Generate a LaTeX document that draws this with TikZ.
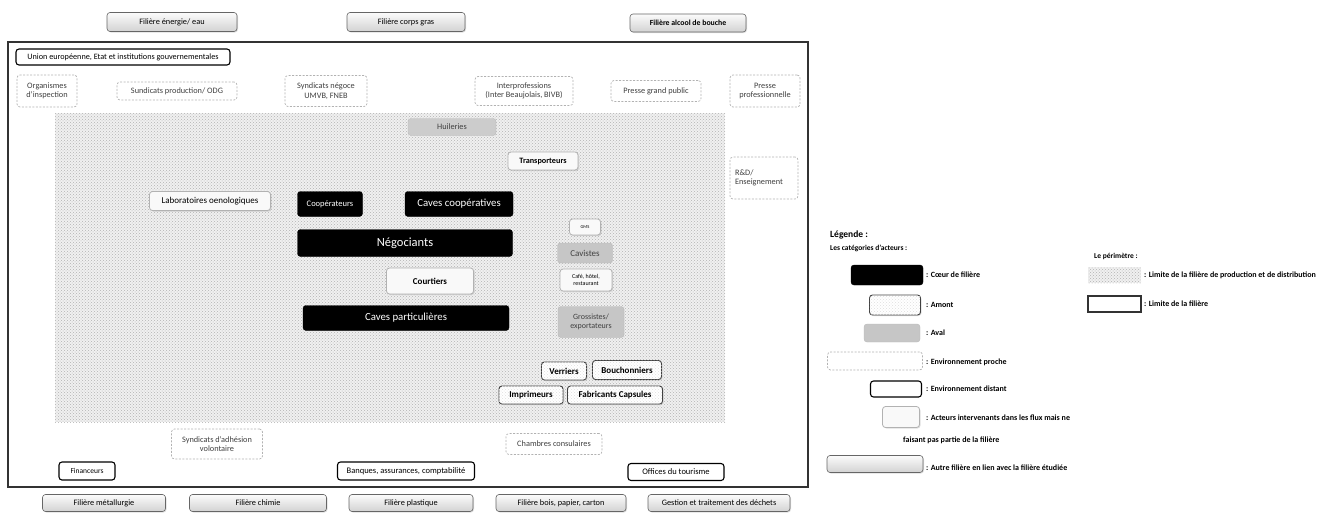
\documentclass[tikz,border=0pt]{standalone}
\usepackage{fontspec}
\setmainfont{Carlito}
\usetikzlibrary{patterns,shadows}

\begin{document}
\begin{tikzpicture}[x=1pt, y=-1pt,
    box/.style={rounded corners=3pt, inner sep=1pt, align=center, font=\fontsize{8.3}{9.5}\selectfont},
    coeur/.style={box, fill=black, draw=black, text=white},
    aval/.style={box, fill=gray!45, draw=gray!55, text=black!75},
    amont/.style={box, fill=white, draw=black!75, line width=0.9pt,
      font=\bfseries\fontsize{9}{10}\selectfont,
      drop shadow={opacity=0.25, shadow xshift=1pt, shadow yshift=-1pt},
      postaction={pattern=crosshatch dots, pattern color=gray!25}},
    interv/.style={box, fill=gray!5, draw=gray!60, line width=0.8pt,
      drop shadow={opacity=0.25, shadow xshift=1pt, shadow yshift=-1pt}},
    proche/.style={box, fill=white, draw=gray!60, line width=0.7pt, dash pattern=on 2pt off 1.5pt, text=black!75},
    distant/.style={box, fill=white, draw=black, line width=1.1pt, font=\fontsize{8.5}{9.5}\selectfont},
    autre/.style={box, top color=gray!3, bottom color=gray!35, draw=black!60, line width=0.6pt,
      drop shadow={opacity=0.25, shadow xshift=1pt, shadow yshift=-1pt}},
    zone/.style={fill=gray!12, postaction={pattern=crosshatch dots, pattern color=gray!60}},
    lgtxt/.style={anchor=west, inner sep=0pt, font=\bfseries\fontsize{8}{9}\selectfont}]
  % the page is measured in pixels of the original figure
  \useasboundingbox (0,0) rectangle (1319,517);

  % limite de la filiere, then the production and distribution zone
  \draw[line width=1.2pt, black!80] (8,42) rectangle (808,487);
  \path[zone] (55,113) rectangle (725,422);

  % autres filieres
  \node[autre, minimum width=130, minimum height=19] (fener) at (172,22) {Filière énergie/ eau};
  \node[autre, minimum width=118, minimum height=19] (fcorps) at (406,22) {Filière corps gras};
  \node[autre, minimum width=116, minimum height=18, font=\bfseries\fontsize{7.8}{9}\selectfont] (falcool) at (688,23) {Filière alcool de bouche};
  \node[autre, minimum width=123, minimum height=17] (fmet) at (104,503) {Filière métallurgie};
  \node[autre, minimum width=137, minimum height=17] (fchim) at (258,503) {Filière chimie};
  \node[autre, minimum width=124, minimum height=17] (fplast) at (411,503) {Filière plastique};
  \node[autre, minimum width=130, minimum height=17] (fbois) at (561,503) {Filière bois, papier, carton};
  \node[autre, minimum width=142, minimum height=17] (fdech) at (719,503) {Gestion et traitement des déchets};

  % environnement distant
  \node[distant, minimum width=214, minimum height=16, font=\fontsize{8.2}{9}\selectfont] (ue) at (123,57) {Union européenne, Etat et institutions gouvernementales};
  \node[distant, minimum width=56, minimum height=18, font=\fontsize{7.5}{8.5}\selectfont] (fin) at (87,471) {Financeurs};
  \node[distant, minimum width=137, minimum height=18] (banq) at (406,471) {Banques, assurances, comptabilité};
  \node[distant, minimum width=96, minimum height=17] (offices) at (676,472) {Offices du tourisme};

  % environnement proche
  \node[proche, minimum width=60, minimum height=32] (orga) at (47,91) {Organismes\\d'inspection};
  \node[proche, minimum width=120, minimum height=18] (synprod) at (177,91) {Sundicats production/ ODG};
  \node[proche, minimum width=82, minimum height=31] (synneg) at (326,91) {Syndicats négoce\\UMVB, FNEB};
  \node[proche, minimum width=98, minimum height=29] (interpro) at (524,91) {Interprofessions\\(Inter Beaujolais, BIVB)};
  \node[proche, minimum width=90, minimum height=21] (pressegp) at (656,91) {Presse grand public};
  \node[proche, minimum width=70, minimum height=32] (pressepro) at (765,91) {Presse\\professionnelle};
  \node[proche, minimum height=42, text width=58, inner sep=5pt, align=left] (rd) at (764,178) {R\&D/\\Enseignement};
  \node[proche, minimum width=91, minimum height=30] (synadh) at (217,444) {Syndicats d'adhésion\\volontaire};
  \node[proche, minimum width=96, minimum height=21] (chambres) at (554,444) {Chambres consulaires};

  % coeur de filiere
  \node[coeur, minimum width=65, minimum height=25, font=\fontsize{8.5}{9.5}\selectfont] (coop) at (330,204) {Coopérateurs};
  \node[coeur, minimum width=108, minimum height=25, font=\fontsize{10.8}{12}\selectfont] (cavecoop) at (459,204) {Caves coopératives};
  \node[coeur, minimum width=215, minimum height=27, font=\fontsize{12.5}{14}\selectfont] (nego) at (405,243) {Négociants};
  \node[coeur, minimum width=206, minimum height=25, font=\fontsize{10.8}{12}\selectfont] (cavepart) at (406,318) {Caves particulières};

  % aval
  \node[aval, minimum width=88, minimum height=17, fill=gray!40] (huil) at (452,127) {Huileries};
  \node[aval, minimum width=55, minimum height=20, font=\fontsize{9}{10}\selectfont] (cav) at (585,253) {Cavistes};
  \node[aval, minimum width=66, minimum height=31, font=\fontsize{8}{9.5}\selectfont] (gross) at (591,322) {Grossistes/\\exportateurs};

  % acteurs intervenants
  \node[interv, minimum width=121, minimum height=19, font=\fontsize{9}{10}\selectfont] (labo) at (210,201) {Laboratoires oenologiques};
  \node[interv, minimum width=70, minimum height=18, font=\bfseries\fontsize{8.2}{9}\selectfont] (transp) at (543,161) {Transporteurs};
  \node[interv, minimum width=87, minimum height=26, font=\bfseries\fontsize{9}{10}\selectfont] (court) at (430,281) {Courtiers};
  \node[interv, minimum width=31, minimum height=16, font=\fontsize{4.5}{5}\selectfont] (gms) at (585,227) {GMS};
  \node[interv, minimum width=52, minimum height=22, font=\fontsize{6}{6.5}\selectfont] (chr) at (586,280) {Café, hôtel,\\restaurant};

  % amont
  \node[amont, minimum width=45, minimum height=18] (verr) at (564,371) {Verriers};
  \node[amont, minimum width=69, minimum height=19] (bouch) at (627,370) {Bouchonniers};
  \node[amont, minimum width=64, minimum height=18] (impr) at (531,395) {Imprimeurs};
  \node[amont, minimum width=95, minimum height=18] (fabcap) at (615,395) {Fabricants Capsules};

  % legende
  \node[anchor=west, inner sep=0pt, font=\bfseries\fontsize{9.5}{10.5}\selectfont] (leg) at (830,235) {Légende :};
  \node[lgtxt, font=\bfseries\fontsize{7.5}{8.5}\selectfont] (cat) at (830,248) {Les catégories d'acteurs :};
  \node[lgtxt, font=\bfseries\fontsize{7.5}{8.5}\selectfont] (perim) at (1094,256) {Le périmètre :};

  \node[coeur, minimum width=72, minimum height=20] (lcoeur) at (887,275) {};
  \node[lgtxt] (tcoeur) at (926,275) {: Cœur de filière};
  \node[amont, minimum width=51, minimum height=20] (lamont) at (895,305) {};
  \node[lgtxt] (tamont) at (926,305) {: Amont};
  \node[aval, minimum width=56, minimum height=18] (laval) at (892,333) {};
  \node[lgtxt] (taval) at (926,333) {: Aval};
  \node[proche, minimum width=95, minimum height=18] (lproche) at (875,361) {};
  \node[lgtxt] (tproche) at (926,362) {: Environnement proche};
  \node[distant, minimum width=51, minimum height=16] (ldist) at (896,389) {};
  \node[lgtxt] (tdist) at (926,389) {: Environnement distant};
  \node[interv, minimum width=37, minimum height=21] (linterv) at (901,417) {};
  \node[lgtxt] (tinterv) at (926,418) {: Acteurs intervenants dans les flux mais ne};
  \node[lgtxt] (tinterv2) at (903,440) {faisant pas partie de la filière};
  \node[autre, minimum width=96, minimum height=17] (lautre) at (875,464) {};
  \node[lgtxt] (tautre) at (926,468) {: Autre filière en lien avec la filière étudiée};

  \path[zone] (1088,267) rectangle (1141,283);
  \node[lgtxt] (tzone) at (1144,275) {: Limite de la filière de production et de distribution};
  \draw[line width=1.2pt, black!80] (1088,296) rectangle (1141,312);
  \node[lgtxt] (tlimite) at (1144,304) {: Limite de la filière};
\end{tikzpicture}
\end{document}
